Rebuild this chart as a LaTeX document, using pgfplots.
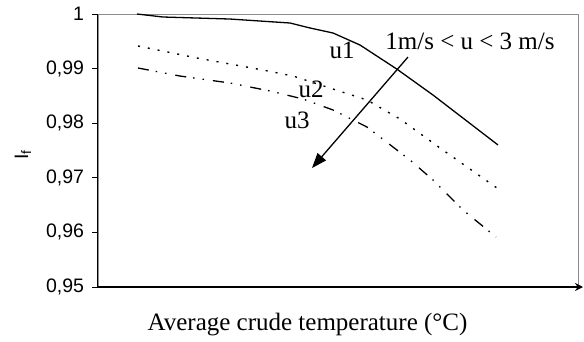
\documentclass[border=0pt]{standalone}
\usepackage{pgfplots}
\pgfplotsset{compat=1.18}
\usepackage{fontspec}
\setmainfont{Liberation Serif}
\newfontfamily\arial{Liberation Sans}
\usetikzlibrary{arrows.meta}
\begin{document}
\begin{tikzpicture}[x=1bp,y=1bp]
\path[use as bounding box] (-98,-54) rectangle (486,287);
\begin{axis}[
  at={(0,0)}, anchor=south west,
  scale only axis, width=480bp, height=273bp,
  xmin=0, xmax=480, ymin=0.95, ymax=1,
  clip=false,
  axis line style={draw=black!45, line width=0.8bp},
  xtick=\empty,
  ytick={0.95,0.96,0.97,0.98,0.99,1},
  ytick pos=left,
  tick align=outside,
  major tick length=6bp,
  tick style={black, line width=0.8bp},
  yticklabel style={font=\arial\fontsize{19.5bp}{22bp}\selectfont, xshift=-4.5bp,
    /pgf/number format/use comma, /pgf/number format/fixed,
    /pgf/number format/precision=2, /pgf/number format/assume math mode=true},
  ylabel={I\textsubscript{f}},
  ylabel style={font=\arial\fontsize{19.5bp}{22bp}\selectfont,
    at={(axis description cs:-0.1458,0.4835)}, anchor=base},
  xlabel={Average crude temperature (°C)},
  xlabel style={font=\fontsize{25bp}{28bp}\selectfont,
    at={(axis description cs:0.4365,-0.1575)}, anchor=base},
]
\draw[black, line width=1bp] (rel axis cs:0,0) -- (rel axis cs:0,1);
\draw[black, line width=1.6bp, -{Stealth[length=8bp,width=8bp]}] (rel axis cs:0,0) -- (axis cs:485,0.95);

\addplot[black, line width=1.3bp] coordinates {
(39,1.0) (65,0.99945) (132,0.99908) (192,0.99835) (212,0.99744) (235,0.99652)
(262,0.99432) (299,0.98989) (335,0.98516) (400,0.97601)};

\addplot[black, line width=1.4bp, dash pattern=on 2bp off 8bp] coordinates {
(40,0.99414) (99,0.99194) (165,0.98974) (195,0.98864) (235,0.98626) (269,0.98425)
(302,0.98077) (342,0.97546) (399,0.96813)};

\addplot[black, line width=1.3bp, dash pattern=on 11bp off 7bp on 1.5bp off 8bp on 1.5bp off 9bp] coordinates {
(40,0.99011) (82,0.98864) (132,0.98736) (172,0.98590) (205,0.98443) (235,0.98242)
(269,0.97930) (295,0.97564) (312,0.97326) (335,0.96960) (365,0.96410) (398,0.95916)};

\draw[black, line width=1.3bp, -{Triangle[length=15bp,width=11bp]}] (axis cs:310,0.99212) -- (axis cs:214,0.97179);

\node[anchor=base, font=\fontsize{25bp}{28bp}\selectfont] at (axis cs:244,0.99194) {u1};
\node[anchor=base, font=\fontsize{25bp}{28bp}\selectfont] at (axis cs:213,0.98462) {u2};
\node[anchor=base, font=\fontsize{25bp}{28bp}\selectfont] at (axis cs:199,0.97912) {u3};
\node[anchor=base, font=\fontsize{25bp}{28bp}\selectfont] at (axis cs:372,0.99341) {1m/s < u < 3 m/s};
\end{axis}
\end{tikzpicture}
\end{document}
